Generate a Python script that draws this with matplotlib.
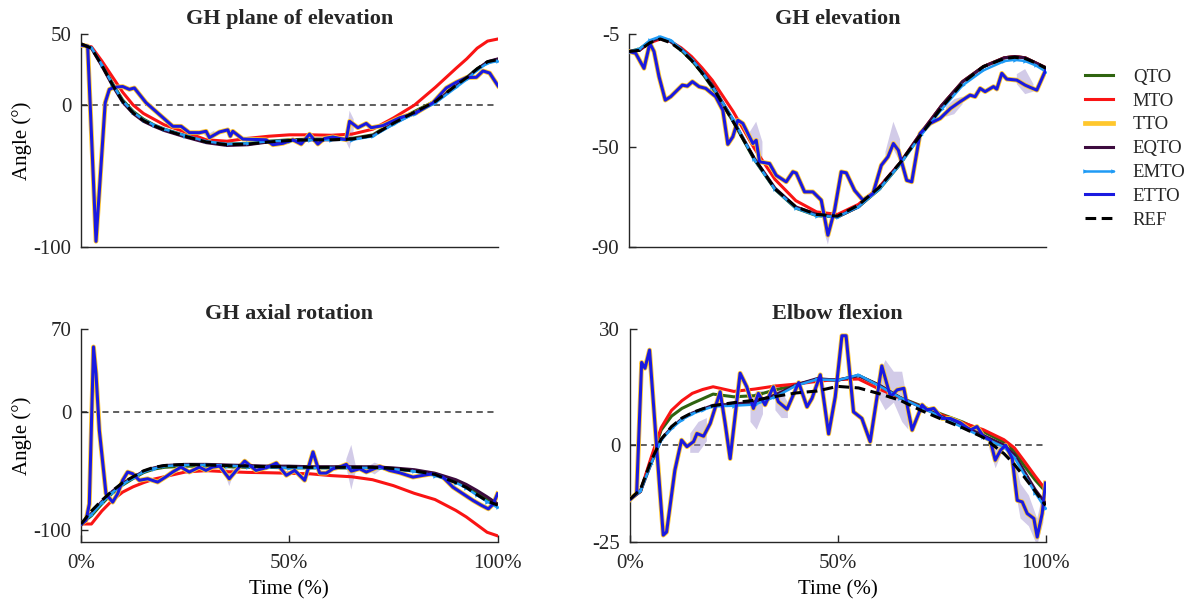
import numpy as np
import matplotlib
matplotlib.use("Agg")
import matplotlib.pyplot as plt

plt.rcParams['font.family'] = ['Liberation Serif', 'DejaVu Serif']
plt.rcParams['axes.edgecolor'] = '#262626'
plt.rcParams['xtick.color'] = '#262626'
plt.rcParams['ytick.color'] = '#262626'
plt.rcParams['text.color'] = '#262626'

nan = np.nan

# Shared time grid (%) for the smooth estimators
T_GRID = [0, 2.5, 5, 7.5, 10, 12.5, 15, 17.5, 20, 25, 30, 35, 40, 45, 50, 55,
          60, 65, 70, 75, 80, 85, 90, 92.5, 95, 97.5, 100]

# ---------------- GH plane of elevation ----------------
QTO_PLANE = [43, 40.5, 29, 15.5, 3.5, -4.5, -10, -14, -17, -21.5, -25.5, -27.5, -27, -25.5,
             -24.5, -24, -24, -23.5, -21, -12, -4.5, 3, 14, 19.5, 25.5, 30, 31.5]
MTO_PLANE = [42, 41, 31, 20, 9, 0, -6, -10, -14, -19, -24.5, -25.5, -23.5, -22, -21, -21,
             -21.3, -20.5, -17, -9, 0, 12.5, 26, 32.5, 40, 45, 46.5]
EQTO_PLANE = [43, 40, 27.5, 14, 2, -6, -11.5, -15, -18, -22.5, -26.5, -28.5, -28, -26, -25,
              -24.5, -24.5, -24, -21.5, -13, -5.5, 2, 13.5, 19, 25, 30.5, 32.5]
EMTO_PLANE = [42.5, 40.5, 28.5, 15, 3, -5, -10.5, -14, -17, -21.5, -25.5, -27.5, -27, -25.5,
              -25, -24.5, -24.5, -24.5, -22, -13.5, -6, 1.5, 12.5, 18, 24.5, 29.5, 31]
REF_PLANE = [43, 40, 28, 14.5, 2.5, -5.5, -11, -14.5, -17.5, -22, -26, -28, -27.5, -26, -25,
             -24.5, -24.5, -24, -21.5, -12.7, -5, 2.5, 14, 19.3, 25.5, 30.5, 32]
ETTO_PLANE_T = [0, 1.6, 3.6, 5.8, 6.8, 8, 10, 11.6, 12.8, 13.6, 15.6, 18.8, 22, 24, 26, 28.4,
                30, 30.8, 33.2, 35.2, 35.8, 36.4, 38.8, 44.4, 46, 48.4, 50.8, 52.8, 54.8, 56.8,
                58.4, 60.4, 63.6, 64.4, 66.4, 68.4, 69.6, 72.4, 76.4, 80.4, 84.4, 87.6, 90,
                92.4, 94.8, 96.4, 98, 100]
ETTO_PLANE = [42, 41.5, -96, 1.6, 11, 12.5, 13, 11, 12, 9, 1.6, -6.7, -15, -15, -19.5, -19.5,
              -18.5, -23, -19, -17.5, -22, -18.5, -24, -24.5, -28, -27, -24.5, -27.5, -20.5,
              -27.5, -23.5, -22.5, -24.5, -11.5, -16, -13, -16, -14.5, -9, -5.5, 1.6, 12, 16,
              19.3, 19.5, 24, 22.5, 13.5]
BAND_PLANE_T = [29.5, 30.8, 32, nan, 63.6, 64.4, 65.4]
BAND_PLANE_LO = [-21, -25, -21, nan, -26, -31, -18]
BAND_PLANE_HI = [-17, -20, -18, nan, -23, -4, -10]

# ---------------- GH elevation ----------------
QTO_ELEV = [-12, -11, -8, -6.5, -8, -11.5, -15.5, -20.5, -26.5, -40, -55, -67, -74.5, -77.5,
            -78, -74, -67, -57, -45, -33.5, -24, -18, -14.5, -14, -14.5, -16.5, -18.5]
MTO_ELEV = [-12, -11.5, -8.5, -7, -8, -10.5, -14, -18.5, -23.5, -36, -50.5, -63, -71.5, -76,
            -77, -73, -66, -56.5, -44.5, -33.5, -24, -18, -14.5, -14, -14.5, -16.5, -18.5]
EQTO_ELEV = [-12, -11.5, -8, -6.5, -8, -11, -15, -20, -25.5, -39.5, -54.5, -66.5, -74, -77,
             -78, -74, -66.5, -56.5, -44.5, -33.5, -24, -18, -14.5, -14, -14.5, -16.5, -18.5]
EMTO_ELEV = [-12, -11, -7.5, -6, -7.5, -11, -15, -20, -26, -39, -55, -67, -74.5, -77.5, -78,
             -74, -67, -57, -45.5, -35, -25.5, -19.5, -15.8, -15.3, -15.8, -17.5, -20]
REF_ELEV = [-12, -11.5, -8.5, -7, -8.5, -11.5, -15.5, -20.5, -26, -40, -54.6, -66.8, -74, -77,
            -77.7, -73.3, -66.2, -56.4, -45.2, -34.3, -24.5, -18, -14.8, -14.3, -14.8, -16.5,
            -18.7]
ETTO_ELEV_T = [0, 1.6, 3.6, 5, 6, 7.2, 8.7, 10, 12.8, 14, 15.2, 16.8, 18.4, 20.8, 22.5, 23.7,
               24.9, 26.1, 27.3, 29.7, 30.5, 31.3, 33.7, 35.3, 37.7, 39.3, 40.1, 42.1, 44.1,
               46.1, 47.7, 49.3, 50.9, 52.1, 54.1, 56.1, 58.5, 60.5, 62.1, 63.4, 64.6, 66.6,
               67.8, 69.8, 72.2, 74.6, 77.1, 79.4, 81.8, 83, 84.2, 85.4, 87.4, 88.2, 89.4,
               90.6, 93, 95, 96.2, 97.8, 100]
ETTO_ELEV = [-12, -12.7, -18.7, -8.7, -12, -22, -31.4, -30, -25.4, -25.8, -24, -26, -26.7,
             -30, -35.4, -49, -46, -39.4, -40.7, -48.7, -47.4, -56, -56.7, -61.4, -64, -60,
             -60.5, -68, -68, -71.3, -85.3, -75.3, -60, -60.4, -67.4, -71.3, -68.7, -57.4,
             -54, -48.7, -51.4, -63.4, -64, -44.7, -40.7, -38.7, -34.7, -32, -29.4, -30,
             -26.7, -28, -26, -27, -20.7, -23, -23.4, -25.4, -26.3, -27.4, -19.1]
BAND_ELEV_T = [29, 30.5, 32, nan, 46.8, 47.7, 48.6, nan, 61.5, 63.4, 65, nan, 76, 78, 80, nan,
               93, 95, 97]
BAND_ELEV_LO = [-49, -51, -55, nan, -84, -89, -82, nan, -56, -51, -56, nan, -38, -37, -33, nan,
                -25, -29, -28]
BAND_ELEV_HI = [-44, -40, -48, nan, -82, -84, -80, nan, -52, -40, -47, nan, -34, -31, -30, nan,
                -21, -19, -25]

# ---------------- GH axial rotation ----------------
QTO_AXIAL = [-95, -88, -78, -69, -62, -56.5, -51.5, -48.5, -47, -46, -46, -46.5, -47, -47,
             -47.5, -47.5, -47.5, -47.5, -47.5, -48.5, -50, -53.5, -59, -63, -68.5, -74, -79]
MTO_AXIAL = [-95, -95, -84, -75, -68, -63.5, -60, -57, -55, -51, -49.8, -50.7, -51.3, -51.6,
             -52, -52.5, -54, -55, -57.5, -62.5, -69, -74.3, -83.5, -89, -95.5, -102, -105]
EQTO_AXIAL = [-96, -86, -76, -67.5, -60.5, -55.5, -50.5, -47.5, -45.5, -44.5, -44.5, -45,
              -45.5, -46, -46, -46.5, -46.5, -46.5, -46.5, -47.5, -49, -52, -57.5, -61.5,
              -66.5, -72, -78]
EMTO_AXIAL = [-95, -87, -77, -68.5, -61.5, -56, -51, -48, -46, -45, -45, -45.5, -46.5, -47,
              -47.5, -47.5, -47.5, -47.5, -47.5, -48.5, -50.5, -54, -60, -64.5, -70.5, -76, -81]
REF_AXIAL = [-95, -84, -75, -67, -60, -55, -50, -47, -45.5, -44.5, -45, -45.5, -46, -46.5,
             -46.5, -47, -47, -47, -47, -48, -50, -53, -60, -64, -70, -75.5, -79]
ETTO_AXIAL_T = [0, 1.2, 2, 3, 3.6, 4.4, 6, 7.6, 8.8, 10, 11.2, 12.4, 14, 16, 18.4, 20.4, 22,
                24, 26, 28.4, 30, 31.6, 33.3, 35.6, 37.3, 39.3, 42, 44.5, 46.9, 49.3, 51.3,
                53.7, 55.7, 57.3, 58.9, 60.5, 62.1, 63.7, 64.9, 66.9, 68.5, 71.7, 74.1, 76.5,
                79.7, 82.1, 84.5, 86.9, 89.3, 91.7, 94.1, 96.2, 97.8, 99, 100]
ETTO_AXIAL = [-95, -92, -78, 55, 32.6, -15.6, -69.4, -76.5, -69.4, -58, -51, -52.4, -58,
              -56.7, -59.5, -55, -51, -46.8, -51, -46.8, -49.6, -46.8, -46, -56.7, -49.6,
              -41.7, -49.6, -47.3, -43.4, -53.8, -49.6, -58, -34, -51.9, -51.9, -48.2, -46.8,
              -44.5, -50.2, -48.2, -51, -46.2, -49.6, -51.6, -55.3, -53.8, -52.4, -55.3,
              -63.8, -69.4, -75, -79.3, -82.2, -78, -69.4]
BAND_AXIAL_T = [34.5, 35.6, 36.7, nan, 63.7, 64.9, 66, nan, 69, 70.5, 72]
BAND_AXIAL_LO = [-52, -63, -52, nan, -47, -66, -50, nan, -50, -53, -49]
BAND_AXIAL_HI = [-47, -50, -47, nan, -40, -28, -46, nan, -46, -43, -45]

# ---------------- Elbow flexion ----------------
QTO_ELBOW = [-14, -12, -4, 3.9, 7.5, 9.5, 10.8, 12, 13.2, 12.5, 12.8, 14.3, 15.6, 17, 16.8,
             18, 15.5, 12.3, 10.2, 8, 6, 3.5, 0.8, -1.5, -5.5, -9, -12]
MTO_ELBOW = [-14, -12, -3.5, 4.5, 9, 11.5, 13.4, 14.4, 15.1, 13.9, 14.5, 15.3, 15.8, 16.5, 17,
             17.1, 14.5, 12.2, 10, 7.8, 5.8, 4, 1.4, -0.7, -4.3, -8, -11.5]
EQTO_ELBOW = [-14, -12, -5, 1.5, 4.5, 6.8, 8.3, 9.3, 10.3, 10.6, 11.2, 13, 15.6, 17.2, 16.8,
              18, 15.5, 12.3, 9.9, 7.4, 5, 2.5, 0, -2.5, -7, -11.5, -15.1]
EMTO_ELBOW = [-14, -12, -5, 1.3, 4.3, 6.6, 8.1, 9.1, 10, 10.2, 10.5, 12.5, 15.4, 17, 16.8,
              18.2, 15.3, 12.3, 9.8, 7.2, 4.6, 2, -0.5, -3.2, -7.8, -12.3, -16.4]
REF_ELBOW = [-14, -11.5, -4.3, 1.5, 4.8, 7, 8.4, 9.4, 10.2, 11, 11.6, 12.6, 13.5, 14, 15.2,
             14.8, 13.3, 11.6, 9, 6.7, 4.5, 2, -2.2, -5, -8.4, -11.9, -15.6]
ETTO_ELBOW_T = [0, 1.6, 2.8, 3.6, 4.7, 6.4, 8, 8.8, 10.8, 12.4, 13.7, 15.3, 16.1, 17.7, 19.3,
                21.7, 22.9, 24.1, 26.5, 28.1, 29.7, 30.9, 32.5, 34.5, 35.7, 37.8, 40.6, 42.6,
                43.8, 45.8, 47.8, 49.4, 51, 52, 53.8, 55.8, 57.8, 60.6, 62.7, 64.3, 65.9, 67.9,
                70.3, 71.5, 73.1, 75.1, 77.1, 79.5, 81.9, 83.5, 85.1, 86.7, 87.9, 89.2, 90.4,
                92, 93.2, 94.4, 95.6, 97.2, 98, 99.2, 100]
ETTO_ELBOW = [-14.1, -12.5, 21.4, 19.9, 24.6, -0.4, -23.3, -22.5, -6.5, 1.3, -0.4, 0.9, 3,
              2.3, 5.6, 13.8, 5.6, -3.5, 18.6, 15.1, 9.5, 13.4, 10.4, 15.1, 11.2, 9.3, 16.2,
              9.9, 12.1, 18.2, 2.9, 12.5, 28.3, 28.3, 8.6, 6.9, 0.9, 20.5, 12.5, 14.3, 14.7,
              3.9, 10.4, 9.1, 9.5, 6.9, 6.9, 5.8, 3.9, 4.8, 2.2, 1.3, -3.9, -1.3, 0, -3.5,
              -14.3, -14.7, -17.7, -19, -23.8, -17.7, -9.8]
BAND_ELBOW_T = [14.5, 16.5, 18.5, nan, 29, 30.5, 32, nan, 35, 36.5, 38, nan, 59.5, 61.5, 63.5,
                65.5, 67, nan, 86.5, 88, 89.5, nan, 92, 94, 96, 98, 99.5]
BAND_ELBOW_LO = [-2, -2, 1, nan, 6, 4, 8, nan, 9, 7, 7, nan, 13, 9, 11, 6, 4, nan, -1, -6, -2,
                 nan, -7, -19, -21, -26, -20]
BAND_ELBOW_HI = [3, 6, 7, nan, 12, 14, 14, nan, 16, 14, 11, nan, 17, 22, 19, 19, 10, nan, 2, -1,
                 1, nan, -1, -10, -13, -19, -12]

TITLES = ["GH plane of elevation", "GH elevation", "GH axial rotation", "Elbow flexion"]
YTICKS = [[-100, 0, 50], [-90, -50, -5], [-100, 0, 70], [-25, 0, 30]]
YLIMS = [(-100, 50), (-90, -5), (-110, 70), (-25, 30)]
XTICKS = [0, 50, 100]
XTICKLABELS = ["0%", "50%", "100%"]

PANELS = [
    (QTO_PLANE, MTO_PLANE, EQTO_PLANE, EMTO_PLANE, REF_PLANE, ETTO_PLANE_T, ETTO_PLANE,
     BAND_PLANE_T, BAND_PLANE_LO, BAND_PLANE_HI),
    (QTO_ELEV, MTO_ELEV, EQTO_ELEV, EMTO_ELEV, REF_ELEV, ETTO_ELEV_T, ETTO_ELEV,
     BAND_ELEV_T, BAND_ELEV_LO, BAND_ELEV_HI),
    (QTO_AXIAL, MTO_AXIAL, EQTO_AXIAL, EMTO_AXIAL, REF_AXIAL, ETTO_AXIAL_T, ETTO_AXIAL,
     BAND_AXIAL_T, BAND_AXIAL_LO, BAND_AXIAL_HI),
    (QTO_ELBOW, MTO_ELBOW, EQTO_ELBOW, EMTO_ELBOW, REF_ELBOW, ETTO_ELBOW_T, ETTO_ELBOW,
     BAND_ELBOW_T, BAND_ELBOW_LO, BAND_ELBOW_HI),
]

C_QTO = '#2f6410'
C_MTO = '#fa1414'
C_TTO = '#ffc72c'
C_EQTO = '#3d0c3f'
C_EMTO = '#1f9bf5'
C_ETTO = '#1a1ae0'
C_BAND = '#9d8ccc'

W, H = 1191, 601
fig = plt.figure(figsize=(W / 100, H / 100), dpi=100)
positions = [
    [81 / W, (H - 247) / H, 417 / W, 213 / H],
    [629 / W, (H - 247) / H, 417 / W, 213 / H],
    [81 / W, (H - 541.7) / H, 416.5 / W, 212.5 / H],
    [630 / W, (H - 541.7) / H, 415.5 / W, 212.5 / H],
]

axes = []
for i, pos in enumerate(positions):
    ax = fig.add_axes(pos)
    axes.append(ax)
    qto, mto, eqto, emto, ref, et_t, et_v, b_t, b_lo, b_hi = PANELS[i]

    if i != 1:
        ax.axhline(0, color='#333333', lw=1.1, ls=(0, (4, 3)), zorder=1)

    ax.fill_between(b_t, b_lo, b_hi, color=C_BAND, alpha=0.45, lw=0, zorder=2)

    ax.plot(T_GRID, qto, color=C_QTO, lw=2.2, label='QTO', zorder=3)
    ax.plot(T_GRID, mto, color=C_MTO, lw=2.2, label='MTO', zorder=3)
    ax.plot(et_t, et_v, color=C_TTO, lw=3.4, label='TTO', zorder=3)
    ax.plot(T_GRID, eqto, color=C_EQTO, lw=2.2, label='EQTO', zorder=3)
    ax.plot(T_GRID, emto, color=C_EMTO, lw=1.8, marker='>', markersize=3.2,
            markeredgewidth=0, label='EMTO', zorder=3)
    ax.plot(et_t, et_v, color=C_ETTO, lw=2.2, label='ETTO', zorder=4)
    ax.plot(T_GRID, ref, color='black', lw=2.2, dashes=(3.5, 1.8), label='REF', zorder=5)

    ax.set_xlim(0, 100)
    ax.set_ylim(*YLIMS[i])
    ax.set_yticks(YTICKS[i])
    ax.set_yticklabels([str(v) for v in YTICKS[i]])
    for s in ('top', 'right'):
        ax.spines[s].set_visible(False)
    ax.spines['left'].set_linewidth(1.0)
    ax.spines['bottom'].set_linewidth(1.0)
    ax.tick_params(direction='in', length=5, width=1.0, labelsize=15, pad=7)
    ax.set_title(TITLES[i], fontsize=16, fontweight='bold', pad=7)

    if i < 2:
        ax.set_xticks([])
    else:
        ax.set_xticks(XTICKS)
        ax.set_xticklabels(XTICKLABELS)
        ax.tick_params(axis='x', pad=9)
        ax.set_xlabel('Time (%)', fontsize=15, labelpad=5)
    if i in (0, 2):
        ax.set_ylabel('Angle (°)', fontsize=15)
        ax.yaxis.set_label_coords(-0.118, 0.5)

handles, labels = axes[0].get_legend_handles_labels()
fig.legend(handles, labels, loc='upper left', bbox_to_anchor=(1072 / W, 1 - 61 / H),
           frameon=False, fontsize=13.5, handlelength=2.1, handletextpad=0.75,
           labelspacing=0.36, numpoints=2, borderaxespad=0)

fig.savefig('out.png', dpi=100)
